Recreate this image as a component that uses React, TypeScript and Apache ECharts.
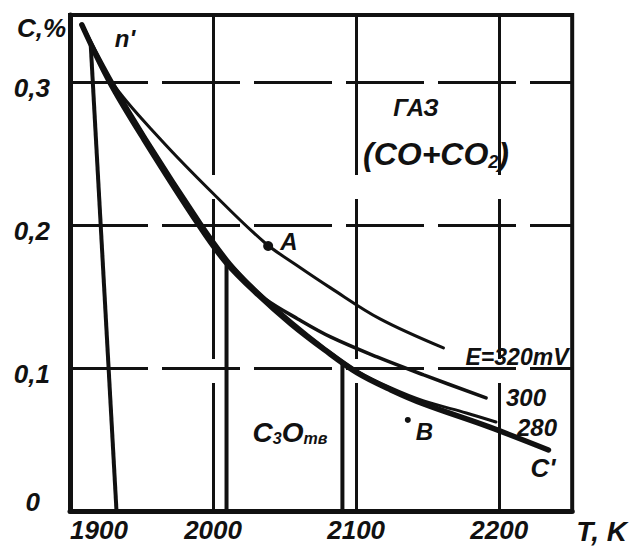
import React, { useEffect, useRef } from "react";
import * as echarts from "echarts";

// Temperature axis (K) and concentration axis (C, %)
const xTicks = [1900, 2000, 2100, 2200];
const yTicks = [0, 0.1, 0.2, 0.3];

// Curves [T, C]
const curveC = [
  [1908.3, 0.3401], [1927.7, 0.3002], [1951.9, 0.2596], [1990.0, 0.2001], [2008.7, 0.1743],
  [2031.5, 0.1512], [2054.4, 0.1309], [2077.9, 0.1127], [2100.8, 0.0966], [2124.3, 0.0847],
  [2147.2, 0.0749], [2192.9, 0.0588], [2234.4, 0.0427],
];
const curve320 = [
  [1908.3, 0.3401], [1929.1, 0.3002], [1963.7, 0.2596], [2000.4, 0.2218], [2036.4, 0.1875],
  [2059.2, 0.1714], [2082.1, 0.1561], [2116.7, 0.1344], [2161.0, 0.1141],
];
const curve300 = [
  [1908.3, 0.3401], [1929.1, 0.3009], [1953.3, 0.2603], [1991.4, 0.2015], [2010.1, 0.1756],
  [2024.6, 0.1596], [2036.4, 0.1484], [2059.2, 0.1344], [2082.1, 0.1218], [2114.6, 0.1078],
  [2147.2, 0.0952], [2190.8, 0.0791],
];
const curve280 = [
  [1908.3, 0.3401], [1928.4, 0.3009], [1952.6, 0.261], [1990.7, 0.2015], [2009.4, 0.1756],
  [2032.2, 0.1526], [2055.1, 0.1323], [2077.9, 0.1141], [2100.8, 0.098], [2124.3, 0.0861],
  [2147.2, 0.077], [2177.0, 0.0686], [2197.7, 0.0623],
];
const boundaryLeft = [[1914.5, 0.326], [1932.5, 0]];
const boundaryMid = [[2009.4, 0.1736], [2009.4, 0]];
const boundaryRight = [[2090.4, 0.1036], [2090.4, 0]];
const pointA = [[2038.5, 0.1854]];
const pointB = [[2136.1, 0.0637]];

const FAM = '"Liberation Sans", Arial, sans-serif';
const INK = "#111";
const font = (s: number) => `italic bold ${s}px ${FAM}`;

export default function App() {
  const ref = useRef<HTMLDivElement>(null);
  useEffect(() => {
    if (!ref.current) return;
    const chart = echarts.init(ref.current, undefined, { renderer: "svg" });
    const curve = (name: string, data: number[][], width: number) => ({
      name,
      type: "line",
      data,
      smooth: 0.35,
      symbol: "none",
      lineStyle: { color: INK, width, cap: "round" },
      z: 3,
    });
    const straight = (name: string, data: number[][]) => ({
      name,
      type: "line",
      data,
      symbol: "none",
      lineStyle: { color: INK, width: 4 },
      z: 3,
    });
    const txt = (text: string, x: number, y: number, size: number, rich?: any) => ({
      type: "text",
      x,
      y,
      z: 10,
      style: {
        text,
        font: font(size),
        fill: INK,
        align: "center",
        verticalAlign: "middle",
        rich,
      },
    });
    const pointLabel = (text: string, offset: number[]) => ({
      show: true,
      formatter: text,
      position: "right",
      offset,
      fontStyle: "italic",
      fontWeight: "bold",
      fontSize: 24,
      fontFamily: FAM,
      color: INK,
    });
    chart.setOption({
      animation: false,
      backgroundColor: "#fff",
      grid: {
        left: 70,
        top: 15,
        right: 53,
        bottom: 40,
        show: true,
        borderColor: INK,
        borderWidth: 4,
      },
      xAxis: {
        type: "value",
        min: 1900,
        max: 2251,
        interval: 100,
        name: "T, K",
        nameLocation: "end",
        nameGap: 4,
        nameTextStyle: {
          fontStyle: "italic",
          fontWeight: "bold",
          fontSize: 28,
          fontFamily: FAM,
          color: INK,
          align: "left",
          verticalAlign: "top",
          padding: [6, 0, 0, 0],
        },
        axisLine: { show: true, lineStyle: { color: INK, width: 5 } },
        axisTick: { show: false },
        axisLabel: {
          margin: 6,
          alignMinLabel: "left",
          fontStyle: "italic",
          fontWeight: "bold",
          fontSize: 26,
          fontFamily: FAM,
          color: INK,
          formatter: (v: number) => (xTicks.includes(v) ? String(v) : ""),
        },
        splitLine: { show: true, lineStyle: { color: INK, width: 3, type: [160, 24] } },
      },
      yAxis: {
        type: "value",
        min: 0,
        max: 0.347,
        interval: 0.1,
        name: "C,%",
        nameLocation: "end",
        nameGap: 0,
        nameTextStyle: {
          fontStyle: "italic",
          fontWeight: "bold",
          fontSize: 26,
          fontFamily: FAM,
          color: INK,
          align: "right",
          verticalAlign: "top",
          padding: [0, 4, 0, 0],
        },
        axisLine: { show: true, lineStyle: { color: INK, width: 5 } },
        axisTick: { show: false },
        axisLabel: {
          margin: 20,
          fontStyle: "italic",
          fontWeight: "bold",
          fontSize: 26,
          fontFamily: FAM,
          color: INK,
          formatter: (v: number) => {
            const t = yTicks.find((k) => Math.abs(k - v) < 1e-6);
            if (t === undefined) return "";
            if (t === 0) return "{z|0}";
            return "{n|" + t.toFixed(1).replace(".", ",") + "}";
          },
          rich: {
            n: { padding: [12, 0, 0, 0], fontStyle: "italic", fontWeight: "bold", fontSize: 26, fontFamily: FAM, color: INK },
            z: { padding: [0, 10, 18, 0], fontStyle: "italic", fontWeight: "bold", fontSize: 26, fontFamily: FAM, color: INK },
          },
        },
        splitLine: { show: true, lineStyle: { color: INK, width: 3, type: [78, 14] } },
      },
      series: [
        curve("C'", curveC, 5.5),
        curve("E=320mV", curve320, 3),
        curve("300", curve300, 3.5),
        curve("280", curve280, 3),
        straight("left", boundaryLeft),
        straight("mid", boundaryMid),
        straight("right", boundaryRight),
        {
          name: "A",
          type: "scatter",
          data: pointA,
          symbolSize: 10,
          itemStyle: { color: INK, opacity: 1 },
          label: pointLabel("A", [2, -4]),
          z: 5,
        },
        {
          name: "B",
          type: "scatter",
          data: pointB,
          symbolSize: 6,
          itemStyle: { color: INK, opacity: 1 },
          label: pointLabel("B", [0, 12]),
          z: 5,
        },
      ],
      graphic: [
        txt("n'", 125, 38, 24),
        txt("ГАЗ", 416, 107, 24),
        txt("{a|(CO+CO}{s|2}{a|)}", 436, 154, 32, {
          a: { font: font(32), fill: INK },
          s: { font: font(18), fill: INK, padding: [16, 0, 0, 0] },
        }),
        txt("E=320mV", 517, 357, 23),
        txt("300", 526, 397, 24),
        txt("280", 537, 427, 24),
        txt("C'", 543, 468, 26),
        txt("{a|C}{s|3}{a|O}{s|тв}", 290, 432, 28, {
          a: { font: font(28), fill: INK },
          s: { font: font(16), fill: INK, padding: [12, 0, 0, 0] },
        }),
      ],
    });
    return () => chart.dispose();
  }, []);
  return (
    <div
      ref={ref}
      style={{ position: "fixed", left: 0, top: 0, width: 630, height: 551, background: "#fff" }}
    />
  );
}
